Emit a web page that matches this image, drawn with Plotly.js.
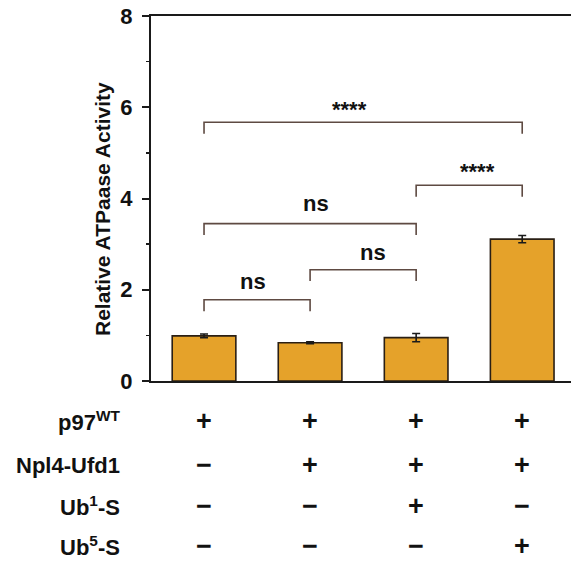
<!DOCTYPE html>
<html>
<head>
<meta charset="utf-8">
<script src="https://cdn.plot.ly/plotly-3.0.1.min.js"></script>
<style>html,body{margin:0;padding:0;background:#fff;}#chart{width:571px;height:561px;}</style>
</head>
<body>
<div id="chart"></div>
<script>
// ---- data ----
const conditions = [0, 1, 2, 3];
const activity = [0.99, 0.84, 0.95, 3.11];
const activityErr = [0.04, 0.02, 0.09, 0.08];

const bracketPairs = [[0, 1], [1, 2], [0, 2], [2, 3], [0, 3]];
const bracketHeights = [1.78, 2.44, 3.45, 4.29, 5.67];
const bracketLabels = ["ns", "ns", "ns", "****", "****"];
const bracketLabelX = [0.46, 1.59, 1.06, 2.58, 1.37];
const bracketLabelY = [2.18, 2.81, 3.90, 4.59, 5.94];
const legDrop = 0.25;

const rowLabels = ["p97<sup>WT</sup>", "Npl4-Ufd1", "Ub<sup>1</sup>-S", "Ub<sup>5</sup>-S"];
const rowSigns = [
  ["+", "+", "+", "+"],
  ["-", "+", "+", "+"],
  ["-", "-", "+", "-"],
  ["-", "-", "-", "+"]
];
const yTicks = [0, 2, 4, 6, 8];

// ---- layout helpers ----
const FONT = "Arial, 'Liberation Sans', Helvetica, sans-serif";
const plotTopPx = 16, plotBottomPx = 381, plotLeftPx = 151, W = 571, H = 561;
const plotH = plotBottomPx - plotTopPx, plotW = W - plotLeftPx;
const rowPx = [421, 465, 506, 546];
const pyPaper = px => (plotBottomPx - px) / plotH;
const pxPaper = px => (px - plotLeftPx) / plotW;

const traces = [];
traces.push({
  type: "bar",
  x: conditions,
  y: activity,
  width: 0.6,
  marker: {color: "rgb(229,162,42)", line: {color: "#2a1f14", width: 1.6}},
  error_y: {type: "data", array: activityErr, visible: true, color: "#1a1a1a", thickness: 1.6, width: 4},
  hoverinfo: "skip",
  showlegend: false
});

bracketPairs.forEach((p, i) => {
  const h = bracketHeights[i];
  traces.push({
    type: "scatter",
    mode: "lines",
    x: [p[0], p[0], p[1], p[1]],
    y: [h - legDrop, h, h, h - legDrop],
    line: {color: "#5e4a42", width: 1.6},
    hoverinfo: "skip",
    showlegend: false
  });
});

const annotations = [];
bracketLabels.forEach((t, i) => {
  annotations.push({
    x: bracketLabelX[i], y: bracketLabelY[i], xref: "x", yref: "y",
    text: "<b>" + t + "</b>", showarrow: false, xanchor: "center", yanchor: "middle",
    font: {family: FONT, size: 22, color: "#111"}
  });
});

annotations.push({
  x: pxPaper(103), y: pyPaper(209), xref: "paper", yref: "paper",
  text: "<b>Relative ATPaase Activity</b>", textangle: -90, showarrow: false,
  xanchor: "center", yanchor: "middle",
  font: {family: FONT, size: 21, color: "#111"}
});

rowLabels.forEach((lab, r) => {
  annotations.push({
    x: pxPaper(122), y: pyPaper(rowPx[r]), xref: "paper", yref: "paper",
    text: "<b>" + lab + "</b>", showarrow: false, xanchor: "right", yanchor: "middle",
    font: {family: FONT, size: 22, color: "#111"}
  });
  rowSigns[r].forEach((s, c) => {
    annotations.push({
      x: conditions[c], y: pyPaper(rowPx[r]), xref: "x", yref: "paper",
      text: "<b>" + (s === "+" ? "+" : "\u2212") + "</b>", showarrow: false,
      xanchor: "center", yanchor: "middle",
      font: {family: FONT, size: 27, color: "#111"}
    });
  });
});

const layout = {
  width: W, height: H,
  margin: {l: plotLeftPx, r: 0, t: plotTopPx, b: H - plotBottomPx, pad: 0},
  paper_bgcolor: "#fff", plot_bgcolor: "#fff",
  font: {family: FONT, color: "#111"},
  xaxis: {
    range: [-0.5, 3.46], showticklabels: false, ticks: "", showgrid: false, zeroline: false,
    showline: true, mirror: true, linecolor: "#1a1a1a", linewidth: 2
  },
  yaxis: {
    range: [0, 8], tickvals: yTicks, ticktext: yTicks.map(v => "<b>" + v + "</b>"),
    ticks: "outside", ticklen: 7, tickwidth: 2, tickcolor: "#1a1a1a",
    minor: {dtick: 1, tick0: 0, ticks: "outside", ticklen: 3.5, tickwidth: 1.5, tickcolor: "#1a1a1a", showgrid: false},
    tickfont: {family: FONT, size: 22, color: "#111"},
    ticklabelstandoff: 5,
    showgrid: false, zeroline: false, showline: true, linecolor: "#1a1a1a", linewidth: 2
  },
  annotations: annotations,
  showlegend: false
};

Plotly.newPlot("chart", traces, layout, {displayModeBar: false, staticPlot: true});
</script>
</body>
</html>
